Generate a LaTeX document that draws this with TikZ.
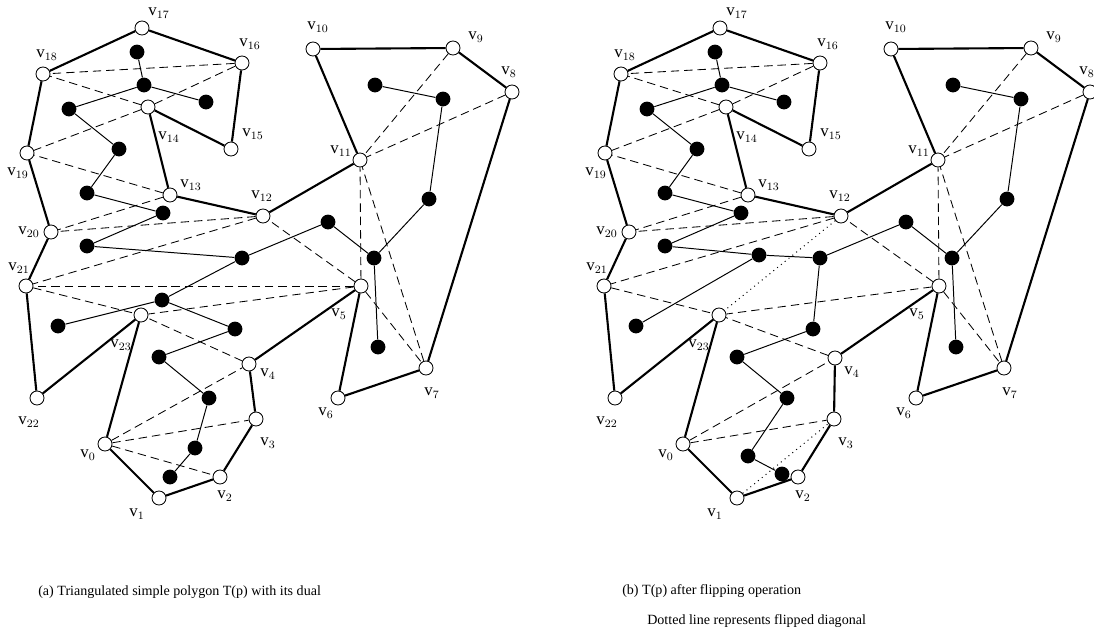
\documentclass[tikz,border=0pt]{standalone}
\usepackage{fontspec}
\setmainfont{Liberation Serif}
\usetikzlibrary{calc,backgrounds}

% polygon vertices: index/x/y/label dx/label dy (v4 is set in each panel)
\newcommand{\polyverts}{0/105/444/-17/11, 1/159/498/-22/16, 2/220/477/5/19,
  3/256/419/12/24, 5/361/286/-22/28, 6/338/398/-12/15, 7/426/368/6/25,
  8/512/92/-3/-20, 9/453/48/23/-11, 10/313/49/5/-22, 11/360/160/-19/-9,
  12/263/216/-1/-20, 13/170/195/21/-10, 14/148/107/21/30, 15/231/149/22/-15,
  16/242/63/8/-19, 17/142/28/17/-15, 18/43/74/4/-19, 19/27/153/-9/20,
  20/51/232/-22/0, 21/26/286/-7/-18, 22/37/398/-8/24, 23/141/315/-20/30}
% dual nodes that both panels share
\newcommand{\dualpts}{1/137/52, 2/144/85, 3/206/102, 4/69/109, 5/119/149,
  6/87/193, 7/163/213, 8/87/246, 9/242/258, 11/58/326, 12/235/329,
  13/159/357, 14/209/398, 17/328/222, 18/374/258, 19/378/347,
  20/429/199, 21/443/99, 22/375/85}
\newcommand{\dualedges}{1/2, 2/3, 2/4, 4/5, 5/6, 6/7, 7/8, 9/17, 9/10, 10/11,
  12/13, 13/14, 14/15, 15/16, 17/18, 18/19, 18/20, 20/21, 21/22}
\newcommand{\diagonals}{0/3, 0/4, 4/23, 5/23, 21/23, 5/12, 12/21, 12/20,
  13/20, 13/19, 14/19, 14/18, 14/16, 16/18, 5/11, 7/11, 5/7, 8/11, 9/11}

\begin{document}
\begin{tikzpicture}[x=0.025cm,y=-0.025cm,
    vtx/.style={circle, draw, fill=white, line width=0.6pt, minimum size=0.35cm, inner sep=0pt},
    dualpt/.style={circle, fill=black, minimum size=0.37cm, inner sep=0pt},
    vlabel/.style={inner sep=0pt, font=\fontsize{12}{14}\selectfont},
    polyedge/.style={line width=1.5pt},
    dualedge/.style={line width=0.7pt},
    diag/.style={line width=0.6pt, dash pattern=on 6pt off 3.5pt},
    flipped/.style={line width=0.7pt, dash pattern=on 0.7pt off 2.8pt},
    caption/.style={anchor=west, inner sep=0pt, font=\fontsize{10}{12}\selectfont}]
  \useasboundingbox (0,0) rectangle (1094,632);

  % (a) triangulation with its dual tree
  \begin{scope}
    \foreach \i/\x/\y in \dualpts
      \node[dualpt] (da\i) at (\x,\y) {};
    \node[dualpt] (da10) at (162,300) {};
    \node[dualpt] (da15) at (195,448) {};
    \node[dualpt] (da16) at (170,477) {};
    \foreach \i/\x/\y/\dx/\dy in \polyverts {
      \node[vtx] (a\i) at (\x,\y) {};
      \node[vlabel] (la\i) at ({\x+\dx},{\y+\dy}) {v$_{\i}$};
    }
    \node[vtx] (a4) at (249,364) {};
    \node[vlabel] (la4) at (268,374) {v$_{4}$};
    \begin{pgfonlayer}{background}
      \foreach \p/\q in \diagonals
        \draw[diag] (a\p) -- (a\q);
      \draw[diag] (a0) -- (a2);
      \draw[diag] (a5) -- (a21);
      \foreach \p/\q in \dualedges
        \draw[dualedge] (da\p) -- (da\q);
      \draw[dualedge] (da8) -- (da9);
      \draw[dualedge] (da10) -- (da12);
      \foreach \i [remember=\i as \j (initially 23)] in {0,...,23}
        \draw[polyedge] (a\j) -- (a\i);
    \end{pgfonlayer}
    \node[caption] (capa) at (38,592) {(a) Triangulated simple polygon T(p) with its dual};
  \end{scope}

  % (b) the same polygon after two flips
  \begin{scope}[shift={(578,0)}]
    \foreach \i/\x/\y in \dualpts
      \node[dualpt] (db\i) at (\x,\y) {};
    \node[dualpt] (db10) at (181,255) {};
    \node[dualpt] (db15) at (170,456) {};
    \node[dualpt] (db16) at (204,474) {};
    \foreach \i/\x/\y/\dx/\dy in \polyverts {
      \node[vtx] (b\i) at (\x,\y) {};
      \node[vlabel] (lb\i) at ({\x+\dx},{\y+\dy}) {v$_{\i}$};
    }
    \node[vtx] (b4) at (257,358) {};
    \node[vlabel] (lb4) at (274,372) {v$_{4}$};
    \begin{pgfonlayer}{background}
      \foreach \p/\q in \diagonals
        \draw[diag] (b\p) -- (b\q);
      \draw[flipped] (b1) -- (b3);
      \draw[flipped] (b12) -- (b23);
      \foreach \p/\q in \dualedges
        \draw[dualedge] (db\p) -- (db\q);
      \draw[dualedge] (db8) -- (db10);
      \draw[dualedge] (db9) -- (db12);
      \foreach \i [remember=\i as \j (initially 23)] in {0,...,23}
        \draw[polyedge] (b\j) -- (b\i);
    \end{pgfonlayer}
    \node[caption] (capb) at (44,591) {(b) T(p) after flipping operation};
    \node[caption] (capc) at (69,621) {Dotted line represents flipped diagonal};
  \end{scope}
\end{tikzpicture}
\end{document}
